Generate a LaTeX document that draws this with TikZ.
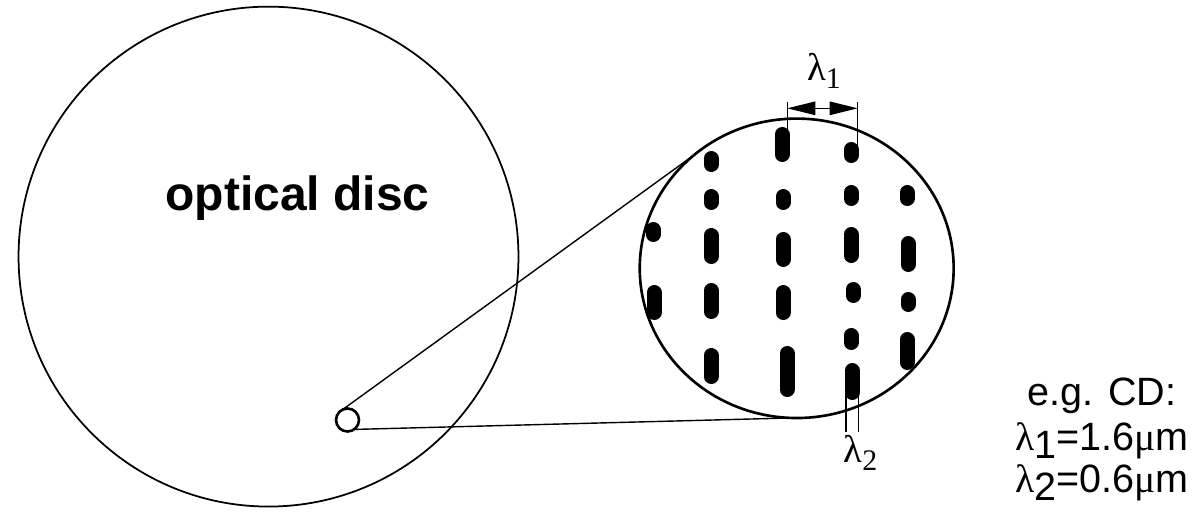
\documentclass[tikz,border=0pt]{standalone}
\usepackage{fontspec}
\setmainfont{Liberation Sans}
\newfontfamily\grk{Liberation Serif}
\usetikzlibrary{shapes.geometric}
\usetikzlibrary{arrows.meta}
\tikzset{
  pit/.style={line width=0.3cm, line cap=round},
  dimline/.style={line width=0.6pt},
  dimtip/.tip={Triangle[length=0.56cm,width=0.27cm]},
  txt/.style={inner sep=0pt, anchor=base, font=\fontsize{22.5}{27}\selectfont},
  sym/.style={inner sep=0pt, anchor=base, font=\grk\fontsize{22}{26}\selectfont}
}
\newcommand{\lsub}[1]{\raisebox{-0.17cm}{\fontsize{17}{17}\selectfont #1}}

\begin{document}
\begin{tikzpicture}[x=0.02cm,y=-0.02cm,outer sep=0pt]
\useasboundingbox (0,0) rectangle (1200,511);
\node[circle,draw,line width=1pt,minimum size=10cm,inner sep=0pt] (disc) at (268.5,256.6) {};
\node[txt,font=\bfseries\fontsize{27.3}{32}\selectfont] (disclabel) at (297.5,210) {optical disc};
\node[circle,draw,line width=1.5pt,minimum size=0.46cm,inner sep=0pt] (hole) at (347.5,420) {};
\node[ellipse,draw,line width=1.5pt,minimum width=6.28cm,minimum height=5.99cm,inner sep=0pt] (lens) at (796.7,268.3) {};

\draw[line width=0.8pt] (hole.116) -- (lens.132.5);
\draw[line width=0.8pt] (hole.-55) -- (lens.268.6);

\foreach \x/\a/\b in {653/222/242, 654/285/320,
  711/151/172, 711/189/210, 711/228/264, 711/283/319, 711/348/384,
  782/127/162, 783/189/210, 783/232/267, 783/285/320, 787/346/397,
  851/142/163, 851/185/206, 851/227/263, 853/282/303, 851/328/350, 852/363/400,
  907/185/206, 908/236/272, 908/292/312, 907/332/370}
  \draw[pit] (\x,\a+7.5) -- (\x,\b-7.5);

\coordinate (u1) at (787.3,101.7);
\coordinate (u2) at (857.7,101.7);
\coordinate (a1) at (787.3,108.3);
\coordinate (a2) at (857.7,108.3);
\draw[dimline] (u1) -- ++(0,33) (u2) -- ++(0,48);
\draw[dimline,dimtip-dimtip] (a1) -- (a2);
\node[sym] (lone) at (824,80) {λ\lsub{1}};

\coordinate (w1) at (846,390);
\coordinate (w2) at (858.3,390);
\draw[dimline] (w1) -- ++(0,42) (w2) -- ++(0,42);
\node[sym] (ltwo) at (860.5,462) {λ\lsub{2}};

\node[txt] (eg) at (1102,405) {e.g. CD:};
\node[txt] (lamA) at (1102,450) {{\grk λ}\raisebox{-0.16cm}{1}=1.6{\grk μ}m};
\node[txt] (lamB) at (1102,492) {{\grk λ}\raisebox{-0.16cm}{2}=0.6{\grk μ}m};
\end{tikzpicture}
\end{document}
